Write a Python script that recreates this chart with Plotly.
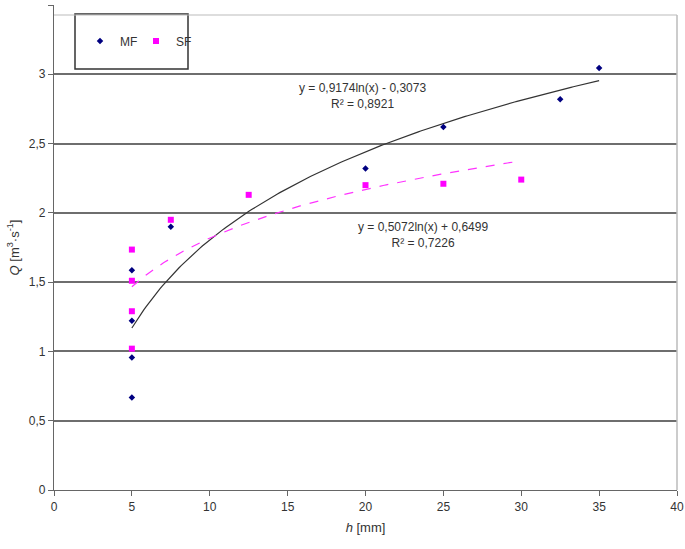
import numpy as np
import plotly.graph_objects as go

# Data
mf_h = [5, 5, 5, 5, 7.5, 20, 25, 32.5, 35]
mf_q = [1.586, 1.222, 0.957, 0.667, 1.90, 2.32, 2.62, 2.82, 3.045]
sf_h = [5, 5, 5, 5, 7.5, 12.5, 20, 25, 30]
sf_q = [1.735, 1.51, 1.29, 1.02, 1.95, 2.13, 2.20, 2.21, 2.24]

# Logarithmic trendline coefficients (a*ln(x) + b) and fitted ranges
mf_fit = [0.9174, -0.3073]
sf_fit = [0.5072, 0.6499]
mf_fit_range = [5, 35]
sf_fit_range = [5, 30]

y_ticks = [0, 0.5, 1, 1.5, 2, 2.5, 3, 3.5]
y_ticktext = ["0", "0,5", "1", "1,5", "2", "2,5", "3", "3,5"]
x_ticks = [0, 5, 10, 15, 20, 25, 30, 35, 40]

FONT = "Liberation Sans, Arial, sans-serif"

L, R, T, B = 54, 8, 5, 59
PW, PH = 685 - L - R, 549 - T - B

def px(xp):
    return (xp - L) / PW

def py(yp):
    return 1 - (yp - T) / PH

xm = np.linspace(mf_fit_range[0], mf_fit_range[1], 200)
xs = np.linspace(sf_fit_range[0], sf_fit_range[1], 200)

fig = go.Figure()
fig.add_trace(go.Scatter(x=xm, y=mf_fit[0] * np.log(xm) + mf_fit[1], mode="lines",
                         line=dict(color="#333333", width=1.2), showlegend=False, hoverinfo="skip"))
fig.add_trace(go.Scatter(x=xs, y=sf_fit[0] * np.log(xs) + sf_fit[1], mode="lines",
                         line=dict(color="#ff33ff", width=1.2, dash="dash"), showlegend=False, hoverinfo="skip"))
fig.add_trace(go.Scatter(x=mf_h, y=mf_q, mode="markers", name="MF",
                         marker=dict(symbol="diamond", size=5, color="#000080")))
fig.add_trace(go.Scatter(x=sf_h, y=sf_q, mode="markers", name="SF",
                         marker=dict(symbol="square", size=6, color="#ff00ff")))

fig.update_layout(
    width=685, height=549,
    margin=dict(l=L, r=R, t=T, b=B),
    paper_bgcolor="white", plot_bgcolor="white",
    font=dict(family=FONT, size=12, color="#333333"),
    legend=dict(orientation="h", x=px(80), y=py(41), xanchor="left", yanchor="middle",
                borderwidth=0, bgcolor="rgba(0,0,0,0)",
                font=dict(size=12, color="#333333"),
                itemwidth=30, entrywidth=11, tracegroupgap=0),
    xaxis=dict(range=[0, 40], tickvals=x_ticks, showgrid=False, zeroline=False,
               showline=True, linecolor="#666666", linewidth=1.2, automargin=False,
               ticks="outside", ticklen=5, tickcolor="#666666",
               tickfont=dict(size=12, color="#333333"),
               title=dict(text="<i>h</i> [mm]", font=dict(size=13, color="#333333"), standoff=10)),
    yaxis=dict(range=[0, 3.5], tickvals=y_ticks, ticktext=y_ticktext,
               showgrid=True, gridcolor="#6e6e6e", gridwidth=1.5, zeroline=False,
               showline=True, linecolor="#666666", linewidth=1.2, automargin=False,
               ticks="outside", ticklen=5, tickcolor="#666666",
               tickfont=dict(size=12, color="#333333"),
               title=dict(text="<i>Q</i> [m<sup>3</sup>·s<sup>-1</sup>]", font=dict(size=13, color="#333333"), standoff=6)),
    shapes=[
        dict(type="line", xref="paper", yref="paper", x0=0, x1=1, y0=py(15), y1=py(15),
             line=dict(color="#bbbbbb", width=1)),
        dict(type="line", xref="paper", yref="paper", x0=1, x1=1, y0=0, y1=py(15),
             line=dict(color="#bbbbbb", width=1.5)),
        dict(type="rect", xref="paper", yref="paper", x0=px(75), x1=px(188), y0=py(69), y1=py(14),
             line=dict(color="#333333", width=1.5), fillcolor="white", layer="below"),
    ],
    annotations=[
        dict(x=19.8, y=2.84, xref="x", yref="y", showarrow=False,
             text="y = 0,9174ln(x) - 0,3073<br>R² = 0,8921",
             font=dict(size=12, color="#333333"), align="center"),
        dict(x=23.7, y=1.84, xref="x", yref="y", showarrow=False,
             text="y = 0,5072ln(x) + 0,6499<br>R² = 0,7226",
             font=dict(size=12, color="#333333"), align="center"),
    ],
)

fig.write_html("out.html", config={"displayModeBar": False},
               post_script="document.body.style.margin='0';")
